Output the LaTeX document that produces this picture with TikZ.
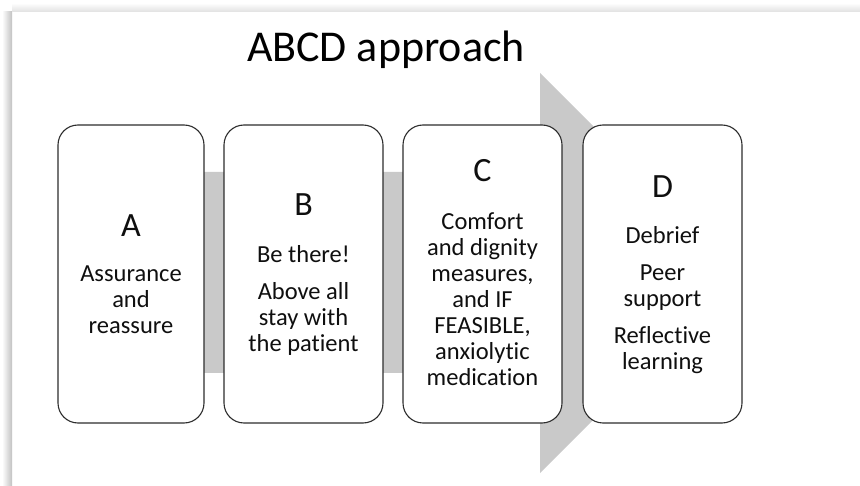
\documentclass[tikz,border=0pt]{standalone}
\usepackage{fontspec}
\setmainfont[Ligatures=NoCommon]{Carlito}
\definecolor{bandgray}{RGB}{201,201,201}
\definecolor{edgegray}{RGB}{45,45,45}
\definecolor{inkblack}{RGB}{15,15,15}

\begin{document}
\begin{tikzpicture}[
    x=1pt, y=-1pt,
    stepnode/.style={rectangle, rounded corners=20pt, draw=edgegray, line width=1.1pt, fill=white, minimum height=298pt},
    letternode/.style={anchor=base, text=inkblack, font=\fontsize{34}{40}\selectfont},
    bodynode/.style={align=center, text=inkblack, inner sep=0pt, font=\fontsize{24.5}{26}\selectfont}
  ]
  \useasboundingbox (0,0) rectangle (860,486);

  %Frame
  \shade[left color=white, right color=black!24] (2,12) rectangle (12,486);
  \shade[top color=white, bottom color=black!12] (12,3) rectangle (860,12);

  %Arrow
  \fill[bandgray] (100,172) -- (540,172) -- (540,73) -- (740,273) -- (540,473) -- (540,373) -- (100,373) -- cycle;

  %Title
  \node[anchor=base, text=black, font=\fontsize{44}{50}\selectfont] (title) at (386,62) {ABCD approach};

  %Boxes
  \node[stepnode, minimum width=146pt] at (131,274) (boxA) {};
  \node[stepnode, minimum width=159pt] at (303.5,274) (boxB) {};
  \node[stepnode, minimum width=159pt] at (482.5,274) (boxC) {};
  \node[stepnode, minimum width=159pt] at (662.5,274) (boxD) {};

  %Letters
  \node[letternode] at (131,237) (letterA) {A};
  \node[letternode] at (303.5,216) (letterB) {B};
  \node[letternode] at (482.5,182) (letterC) {C};
  \node[letternode] at (662.5,198) (letterD) {D};

  %Texts
  \node[bodynode] at (131,300) (textA) {Assurance\\and\\reassure};
  \node[bodynode] at (303.5,300) (textB) {Be there!\\[11pt]Above all\\stay with\\the patient};
  \node[bodynode] at (482.5,299) (textC) {Comfort\\and dignity\\measures,\\and IF\\FEASIBLE,\\anxiolytic\\medication};
  \node[bodynode] at (662.5,300) (textD) {Debrief\\[11pt]Peer\\support\\[11pt]Reflective\\learning};

\end{tikzpicture}
\end{document}
